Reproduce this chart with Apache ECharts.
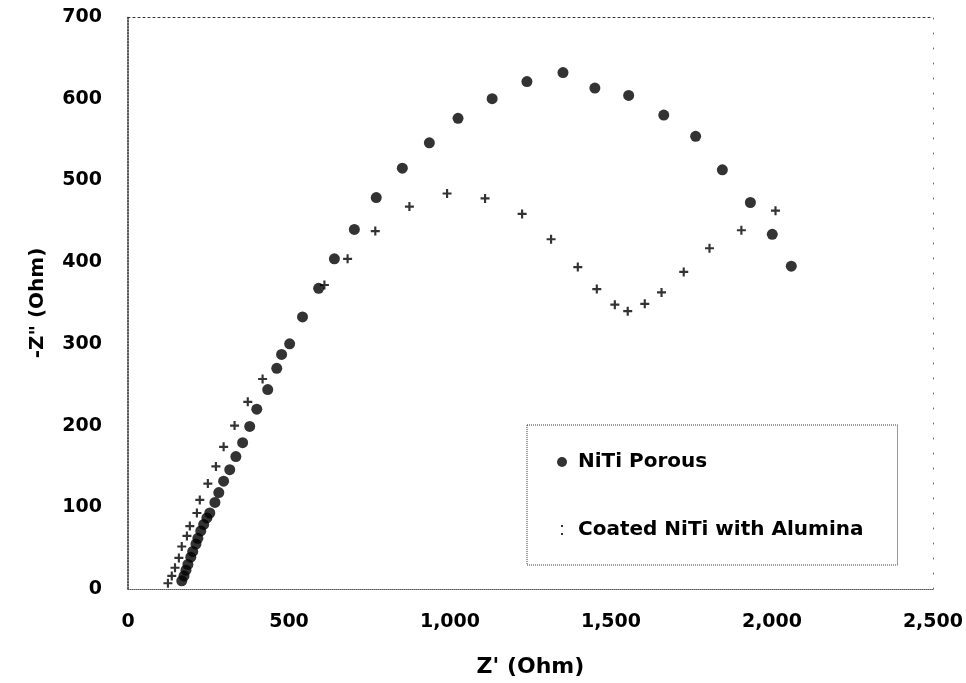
<!DOCTYPE html>
<html>
<head>
<meta charset="utf-8">
<title>Nyquist plot</title>
<script src="https://cdn.jsdelivr.net/npm/echarts@6/dist/echarts.min.js"></script>
<style>
  html, body { margin: 0; padding: 0; background: #fff; }
  #chart { width: 966px; height: 683px; }
</style>
</head>
<body>
<div id="chart"></div>
<script>
// Z' and -Z'' values (Ohm)
var porousX = [167, 174, 180, 186, 195, 201, 211, 217, 226, 235, 245, 254, 270, 282, 297, 316, 335, 356, 378, 400, 434, 462, 477, 502, 542, 592, 641, 703, 771, 852, 936, 1025, 1131, 1239, 1351, 1450, 1555, 1664, 1763, 1846, 1933, 2001, 2060];
var porousY = [10, 16, 23, 30, 39, 46, 55, 62, 71, 79, 87, 93, 106, 118, 132, 146, 162, 179, 199, 220, 244, 270, 287, 300, 333, 368, 404, 440, 479, 515, 546, 576, 600, 621, 632, 613, 604, 580, 554, 513, 473, 434, 395];

var coatedX = [124, 136, 146, 158, 167, 183, 192, 214, 223, 248, 273, 297, 331, 372, 418, 610, 682, 768, 874, 991, 1109, 1224, 1314, 1397, 1456, 1512, 1552, 1605, 1657, 1726, 1806, 1905, 2011];
var coatedY = [7, 16, 26, 38, 52, 65, 77, 93, 109, 129, 150, 174, 200, 229, 257, 372, 404, 438, 468, 484, 478, 459, 428, 394, 367, 348, 340, 349, 363, 388, 417, 439, 463];

var xTicks = [0, 500, 1000, 1500, 2000, 2500];
var yTicks = [0, 100, 200, 300, 400, 500, 600, 700];

var plusPath = 'path://M-1.2,-5L1.2,-5L1.2,-1.2L5,-1.2L5,1.2L1.2,1.2L1.2,5L-1.2,5L-1.2,1.2L-5,1.2L-5,-1.2L-1.2,-1.2Z';

function pairs(xs, ys) {
  return xs.map(function (x, i) { return [x, ys[i]]; });
}

var chart = echarts.init(document.getElementById('chart'));

var labelFont = {
  color: '#000',
  fontFamily: 'DejaVu Sans',
  fontWeight: 'bold',
  fontSize: 19
};

chart.setOption({
  animation: false,
  backgroundColor: '#fff',
  grid: {
    left: 128,
    right: 31,
    top: 17,
    bottom: 92
  },
  legend: {
    orient: 'vertical',
    left: 527,
    top: 425,
    padding: [27, 34, 25, 30],
    itemGap: 48,
    itemWidth: 10,
    itemHeight: 10,
    borderColor: '#333',
    borderWidth: 1,
    borderType: 'dotted',
    textStyle: {
      color: '#000',
      fontFamily: 'DejaVu Sans',
      fontWeight: 'bold',
      fontSize: 20,
      padding: [0, 0, 0, 6]
    },
    data: [
      { name: 'NiTi Porous', icon: 'circle' },
      { name: 'Coated NiTi with Alumina', icon: 'path://M0,0L1,0L1,1L0,1Z M0,4L1,4L1,5L0,5Z' }
    ]
  },
  xAxis: [{
    type: 'value',
    min: 0,
    max: 2500,
    interval: 500,
    name: "Z' (Ohm)",
    nameLocation: 'middle',
    nameGap: 67,
    nameTextStyle: {
      color: '#000',
      fontFamily: 'DejaVu Sans',
      fontWeight: 'bold',
      fontSize: 22
    },
    axisLine: { show: true, lineStyle: { color: '#555', width: 1, type: 'dotted' } },
    axisTick: { show: false },
    splitLine: { show: false },
    axisLabel: Object.assign({
      margin: 24,
      formatter: function (v) { return xTicks.indexOf(v) >= 0 ? v.toLocaleString('en-US') : ''; }
    }, labelFont)
  }, {
    type: 'value',
    position: 'top',
    min: 0,
    max: 2500,
    axisLine: { show: true, onZero: false, lineStyle: { color: '#333', width: 1, type: [2, 3] } },
    axisTick: { show: false },
    axisLabel: { show: false },
    splitLine: { show: false }
  }],
  yAxis: [{
    type: 'value',
    min: 0,
    max: 700,
    interval: 100,
    name: '-Z" (Ohm)',
    nameLocation: 'middle',
    nameGap: 80,
    nameRotate: 90,
    nameTextStyle: {
      color: '#000',
      fontFamily: 'DejaVu Sans',
      fontWeight: 'bold',
      fontSize: 20
    },
    axisLine: { show: true, lineStyle: { color: '#222', width: 1.5, type: 'dotted' } },
    axisTick: { show: false },
    splitLine: { show: false },
    axisLabel: Object.assign({
      margin: 26,
      formatter: function (v) { return yTicks.indexOf(v) >= 0 ? String(v) : ''; }
    }, labelFont)
  }, {
    type: 'value',
    position: 'right',
    min: 0,
    max: 700,
    axisLine: { show: true, onZero: false, lineStyle: { color: '#666', width: 1, type: [1, 14] } },
    axisTick: { show: false },
    axisLabel: { show: false },
    splitLine: { show: false }
  }],
  series: [
    {
      name: 'NiTi Porous',
      type: 'scatter',
      symbol: 'circle',
      symbolSize: 11,
      itemStyle: { color: '#000' },
      data: pairs(porousX, porousY)
    },
    {
      name: 'Coated NiTi with Alumina',
      type: 'scatter',
      symbol: plusPath,
      symbolSize: 9,
      itemStyle: { color: '#000' },
      data: pairs(coatedX, coatedY)
    }
  ]
});

window.addEventListener('resize', function () {
  chart.resize();
});
</script>
</body>
</html>
